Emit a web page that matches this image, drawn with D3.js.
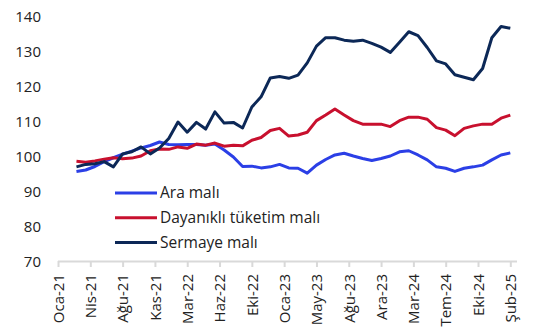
<!DOCTYPE html>
<html>
<head>
<meta charset="utf-8">
<script src="https://cdn.jsdelivr.net/npm/d3@7"></script>
<style>
  html, body { margin: 0; padding: 0; background: #fff; }
  svg text { font-family: "Open Sans", "Noto Sans", sans-serif; fill: #222; }
</style>
</head>
<body>
<svg id="chart" width="548" height="333"></svg>
<script>
// Month index 0 = Oca-21 ... 49 = Şub-25; series start at Mar-21 (index 2)
const startIndex = 2;

const araMali = [
  95.6, 96.0, 97.0, 98.4, 99.5, 100.5, 101.4, 102.3, 103.0, 104.0,
  103.3, 103.2, 103.3, 103.3, 103.1, 103.4, 101.7, 99.7, 97.0, 97.1,
  96.6, 96.9, 97.6, 96.6, 96.5, 95.1, 97.4, 99.0, 100.3, 100.8,
  100.0, 99.3, 98.7, 99.3, 100.0, 101.2, 101.5, 100.3, 98.9, 96.9,
  96.5, 95.6, 96.5, 96.9, 97.4, 98.9, 100.3, 100.9
];

const dayanikli = [
  98.5, 98.2, 98.6, 99.1, 99.5, 99.2, 99.4, 100.0, 101.5, 102.0,
  101.9, 102.6, 102.2, 103.4, 103.1, 103.7, 102.8, 103.1, 102.9, 104.5,
  105.3, 107.3, 107.9, 105.7, 106.0, 106.8, 110.1, 111.7, 113.4, 111.7,
  110.1, 109.1, 109.1, 109.1, 108.4, 110.1, 111.1, 111.1, 110.5, 108.1,
  107.4, 105.8, 107.9, 108.6, 109.1, 109.1, 110.8, 111.7
];

const sermaye = [
  96.9, 97.6, 97.8, 98.4, 96.9, 100.6, 101.2, 102.6, 100.6, 102.3,
  105.0, 109.7, 106.8, 109.6, 107.7, 112.6, 109.4, 109.6, 108.0, 114.0,
  116.9, 122.3, 122.7, 122.2, 123.1, 126.6, 131.4, 133.8, 133.8, 133.1,
  132.8, 133.1, 132.2, 131.1, 129.6, 132.5, 135.5, 134.4, 131.0, 127.2,
  126.3, 123.2, 122.5, 121.8, 125.0, 133.8, 137.0, 136.5
];

const seriesNames = ["Ara malı", "Dayanıklı tüketim malı", "Sermaye malı"];
const seriesColors = ["#2b3fe6", "#c8102e", "#0c2857"];
const seriesValues = [araMali, dayanikli, sermaye];

const xTickLabels = [
  "Oca-21", "Nis-21", "Ağu-21", "Kas-21", "Mar-22", "Haz-22", "Eki-22", "Oca-23",
  "May-23", "Ağu-23", "Ara-23", "Mar-24", "Tem-24", "Eki-24", "Şub-25"
];
const xTickStep = 3.5;
const yTicks = [70, 80, 90, 100, 110, 120, 130, 140];

const svg = d3.select("#chart");

const x = d3.scaleLinear().domain([0, 49]).range([58, 510.3]);
const y = d3.scaleLinear().domain([70, 140]).range([261, 16]);

// y axis labels (no axis line, no gridlines)
const yAxis = d3.axisLeft(y).tickValues(yTicks).tickSize(0).tickPadding(0);
svg.append("g")
  .attr("transform", "translate(41,0)")
  .call(yAxis)
  .call(g => g.select(".domain").remove())
  .call(g => g.selectAll("text")
    .style("font-size", "15px")
    .attr("fill", "#222")
    .attr("dy", "0.35em"));

// x axis
const xTickValues = xTickLabels.map((_, i) => i * xTickStep);
const xAxis = d3.axisBottom(x)
  .tickValues(xTickValues)
  .tickFormat((d, i) => xTickLabels[i])
  .tickSizeInner(6)
  .tickSizeOuter(0);

const gx = svg.append("g")
  .attr("transform", "translate(0,261)")
  .call(xAxis);
gx.select(".domain")
  .attr("d", `M${x(0)},0.5H517`)
  .attr("stroke", "#d9d9d9")
  .attr("stroke-width", 2);
gx.selectAll(".tick line").attr("stroke", "#d9d9d9").attr("stroke-width", 2);
gx.selectAll(".tick text")
  .style("font-size", "15px")
  .attr("fill", "#222")
  .attr("text-anchor", "end")
  .attr("transform", "rotate(-90)")
  .attr("x", -13)
  .attr("y", 0)
  .attr("dy", "0.35em");

// lines
const line = d3.line()
  .x((d, i) => x(startIndex + i))
  .y(d => y(d));

seriesValues.forEach((vals, k) => {
  svg.append("path")
    .datum(vals)
    .attr("fill", "none")
    .attr("stroke", seriesColors[k])
    .attr("stroke-width", 3)
    .attr("stroke-linejoin", "round")
    .attr("d", line);
});

// legend
const legend = svg.append("g").attr("transform", "translate(115,193)");
seriesNames.forEach((name, k) => {
  const row = legend.append("g").attr("transform", `translate(0,${k * 24.7})`);
  row.append("line")
    .attr("x1", 0).attr("x2", 42)
    .attr("stroke", seriesColors[k])
    .attr("stroke-width", 3);
  row.append("text")
    .attr("x", 45)
    .attr("dy", "0.35em")
    .style("font-size", "15.5px")
    .text(name);
});
</script>
</body>
</html>
